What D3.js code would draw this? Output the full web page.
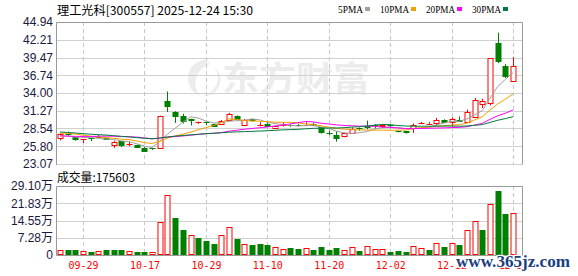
<!DOCTYPE html>
<html><head><meta charset="utf-8">
<script src="https://cdn.jsdelivr.net/npm/d3@7/dist/d3.min.js"></script>
<style>body{margin:0;background:#fff;}svg{display:block;}</style>
</head><body>
<svg id="chart" width="578" height="276"></svg>
<script>
// ---------- data ----------
const dates = ["09-24","09-25","09-26","09-29","09-30","10-09","10-10","10-13","10-14","10-15",
 "10-16","10-17","10-20","10-21","10-22","10-23","10-24","10-27","10-28","10-29",
 "10-30","10-31","11-03","11-04","11-05","11-06","11-07","11-10","11-11","11-12",
 "11-13","11-14","11-17","11-18","11-19","11-20","11-21","11-24","11-25","11-26",
 "11-27","11-28","12-01","12-02","12-03","12-04","12-05","12-08","12-09","12-10",
 "12-11","12-12","12-15","12-16","12-17","12-18","12-19","12-22","12-23","12-24"];
const opens = [27.14,27.65,27.20,26.70,27.05,27.30,27.10,26.06,26.55,26.10,
 26.00,25.60,25.50,25.55,32.70,31.08,30.50,29.99,29.50,29.48,
 29.24,29.24,29.90,30.51,29.13,29.95,29.10,29.30,28.60,29.05,
 29.10,29.10,29.00,29.30,28.72,27.85,27.60,27.30,27.90,28.60,
 28.95,29.00,28.80,29.05,28.20,28.10,28.52,29.30,29.25,29.39,
 29.90,29.50,29.90,29.55,30.40,32.31,32.46,41.67,38.19,35.78];
const highs = [27.80,28.05,27.25,26.90,27.10,27.55,27.15,26.65,26.60,26.50,
 26.05,25.70,25.55,30.50,34.24,31.20,30.80,30.05,29.58,29.60,
 29.30,29.85,30.95,30.55,30.00,30.05,29.50,29.40,28.95,29.40,
 29.20,29.25,29.50,29.45,28.80,28.20,28.10,27.85,28.70,28.70,
 29.75,29.20,29.20,29.10,28.25,28.15,29.29,29.55,29.55,30.16,
 29.95,30.25,30.40,31.44,33.23,33.12,39.38,43.30,38.45,39.52];
const lows = [26.72,27.40,26.65,26.30,26.60,27.05,26.80,25.56,25.68,25.80,
 25.55,24.95,25.25,25.45,31.08,29.40,29.30,29.00,29.25,29.05,
 28.75,29.10,29.80,29.80,29.05,29.60,28.90,28.80,28.50,28.85,
 28.80,28.85,28.90,29.00,27.75,27.50,26.50,27.20,27.85,28.20,
 28.40,28.50,28.60,28.60,27.95,27.75,27.86,29.20,29.25,28.98,
 29.35,28.78,29.60,29.50,30.25,31.70,32.10,38.60,36.30,35.78];
const closes = [27.75,27.55,26.72,26.88,26.82,27.20,26.85,26.48,25.80,26.20,
 25.60,25.03,25.42,30.50,31.70,30.32,29.50,29.68,29.55,29.40,
 28.83,29.75,30.82,29.85,29.88,29.70,29.15,28.85,28.90,29.10,
 28.95,28.90,29.10,29.05,27.80,27.75,27.00,27.80,28.50,28.40,
 28.70,28.80,29.00,28.90,28.00,27.85,29.02,29.40,29.25,29.90,
 29.40,30.00,29.65,31.08,32.97,32.82,39.38,38.76,36.55,38.14];
// volume in 万 (10k shares)
const volumes = [2.1,2.1,2.1,1.6,1.3,1.7,2.1,2.1,2.1,1.7,
 1.4,1.4,1.3,13.9,25.3,15.6,10.5,8.3,7.2,5.9,
 4.6,8.3,11.7,6.7,4.5,4.2,4.6,4.2,3.2,2.4,
 3.0,2.5,2.8,2.1,3.4,2.1,3.0,2.0,3.2,1.7,
 3.7,2.4,2.4,1.3,1.7,1.4,3.7,2.8,2.1,4.9,
 3.4,5.1,4.2,10.4,14.2,10.5,21.5,27.0,17.4,17.5603];
// closes before the visible window (for moving averages)
const priorCloses = [29.6,29.4,29.8,29.5,29.1,28.9,29.2,28.8,29.0,28.7,
 28.2,27.6,27.1,26.8,26.6,26.5,26.7,26.9,26.7,26.9,
 27.5,28.0,28.6,28.5,28.4,27.8,27.4,27.1,26.95];
const priceTicks = [44.94,42.21,39.47,36.74,34.00,31.27,28.54,25.80,23.07];
const volTicks = [29.10,21.83,14.55,7.28,0];
const volTickLabels = ["29.10万","21.83万","14.55万","7.28万","0"];
const dateLabels = ["09-29","10-17","10-29","11-10","11-20","12-02","12-12","12-24"];
const maPeriods = [5,10,20,30];
const maNames = ["5PMA","10PMA","20PMA","30PMA"];
const stockTitle = "理工光科[300557] 2025-12-24 15:30";
const volTitle = "成交量:175603";

// ---------- styles / layout ----------
const maColors = ["#a0a0a0","#f0a000","#ff00ff","#007a3c"];
const RED = "#ff0000", GREEN = "#008000";
const L = 56, R = 522, PT = 22, PB = 164, VT = 186, VB = 255;

const svg = d3.select("#chart");
const n = closes.length;
const x = d3.scaleLinear().domain([0, n - 1]).range([60, 513]);
const y = d3.scaleLinear().domain([23.07, 44.94]).range([PB, PT]);
const yv = d3.scaleLinear().domain([0, 29.10]).range([VB, VT]);
const cx = i => Math.round(x(i)) + 0.5;
const idxOf = d => dates.indexOf(d);

// watermark (东方财富)
const wm = svg.append("g");
wm.append("path")
  .attr("d", "M205,60 C185,62 182,88 200,96 C192,86 194,70 210,64 Z M212,66 C222,72 220,90 204,96 C222,96 226,72 212,66 Z")
  .attr("fill", "#ececec");
wm.append("text").attr("x", 222).attr("y", 91)
  .attr("font-family", "Noto Sans CJK SC").attr("font-weight", "bold")
  .attr("font-size", 34).attr("fill", "#ececec")
  .attr("textLength", 148).attr("lengthAdjust", "spacingAndGlyphs").text("东方财富");

// gridlines price
svg.append("g").selectAll("line").data(priceTicks.slice(1)).join("line")
  .attr("x1", L).attr("x2", R)
  .attr("y1", d => Math.round(y(d)) + 0.5).attr("y2", d => Math.round(y(d)) + 0.5)
  .attr("stroke", "#d0d0d0");
// gridlines volume
svg.append("g").selectAll("line").data(volTicks.slice(1, 4)).join("line")
  .attr("x1", L).attr("x2", R)
  .attr("y1", d => Math.round(yv(d)) + 0.5).attr("y2", d => Math.round(yv(d)) + 0.5)
  .attr("stroke", "#d0d0d0");
// vertical dashed
const vg = svg.append("g");
dateLabels.forEach(d => {
  const xx = cx(idxOf(d));
  vg.append("line").attr("x1", xx).attr("x2", xx).attr("y1", PT).attr("y2", PB)
    .attr("stroke", "#c8c8c8").attr("stroke-dasharray", "4,3");
  vg.append("line").attr("x1", xx).attr("x2", xx).attr("y1", VT).attr("y2", VB)
    .attr("stroke", "#c8c8c8").attr("stroke-dasharray", "4,3");
});

// borders
const bc = "#999";
svg.append("path").attr("d", `M${L+0.5},${PB+1}V${PT+0.5}H${R+0.5}V${PB+0.5}`).attr("fill","none").attr("stroke", bc);
svg.append("path").attr("d", `M${L+0.5},${VB+0.5}V${VT+0.5}H${R+0.5}V${VB+0.5}H${L+0.5}`).attr("fill","none").attr("stroke", bc);

// candles
const cg = svg.append("g");
for (let i = 0; i < n; i++) {
  const up = closes[i] >= opens[i];
  const col = up ? RED : GREEN;
  const xx = cx(i);
  cg.append("line").attr("x1", xx).attr("x2", xx)
    .attr("y1", y(highs[i])).attr("y2", y(lows[i])).attr("stroke", col);
  const top = y(Math.max(opens[i], closes[i])), bot = y(Math.min(opens[i], closes[i]));
  const h = bot - top;
  if (h < 1.2) {
    cg.append("line").attr("x1", xx - 3).attr("x2", xx + 3)
      .attr("y1", Math.round(top) + 0.5).attr("y2", Math.round(top) + 0.5).attr("stroke", col);
  } else if (up) {
    cg.append("rect").attr("x", xx - 2.5).attr("y", Math.round(top) + 0.5)
      .attr("width", 5).attr("height", Math.max(1, Math.round(h)))
      .attr("fill", "#fff").attr("stroke", col);
  } else {
    cg.append("rect").attr("x", xx - 3).attr("y", Math.round(top))
      .attr("width", 6).attr("height", Math.max(1, Math.round(h)))
      .attr("fill", col);
  }
}

// moving averages
const all = priorCloses.concat(closes);
const off = priorCloses.length;
maPeriods.forEach((p, k) => {
  const vals = closes.map((c, i) => d3.mean(all.slice(off + i - p + 1, off + i + 1)));
  svg.append("path").datum(vals)
    .attr("d", d3.line().x((d, i) => x(i)).y(d => y(d)))
    .attr("fill", "none").attr("stroke", maColors[k]).attr("stroke-width", 1);
});

// volume bars
const vbg = svg.append("g");
volumes.forEach((v, i) => {
  const prev = i === 0 ? priorCloses[priorCloses.length - 1] : closes[i - 1];
  const up = closes[i] >= prev;
  const xx = cx(i);
  const top = Math.round(yv(v));
  if (up) {
    vbg.append("rect").attr("x", xx - 2.5).attr("y", top + 0.5)
      .attr("width", 5).attr("height", VB - top - 1)
      .attr("fill", "#fff").attr("stroke", RED);
  } else {
    vbg.append("rect").attr("x", xx - 3).attr("y", top)
      .attr("width", 6).attr("height", VB - top).attr("fill", GREEN);
  }
});

// axes (labels only)
const axFont = "Liberation Sans, Arial, sans-serif";
const ay = svg.append("g").attr("transform", `translate(${L - 2},0)`)
  .call(d3.axisLeft(y).tickValues(priceTicks).tickFormat(d3.format(".2f")).tickSize(0).tickPadding(1));
ay.select(".domain").remove();
ay.selectAll("text").attr("font-family", axFont).attr("font-size", 12).attr("fill", "#1a1a40");

const av = svg.append("g").attr("transform", `translate(${L - 2},0)`)
  .call(d3.axisLeft(yv).tickValues(volTicks).tickFormat((d, i) => volTickLabels[i]).tickSize(0).tickPadding(1));
av.select(".domain").remove();
av.selectAll("text").attr("font-family", axFont + ", Noto Sans CJK SC").attr("font-size", 12).attr("fill", "#1a1a40");

const ax = svg.append("g").attr("transform", `translate(0,${VB})`)
  .call(d3.axisBottom(x).tickValues(dateLabels.map(idxOf)).tickFormat(i => dates[i]).tickSize(0).tickPadding(7));
ax.select(".domain").remove();
ax.selectAll("text").attr("font-family", "DejaVu Sans Mono, monospace").attr("font-size", 10.5)
  .attr("fill", RED).attr("textLength", 30).attr("lengthAdjust", "spacingAndGlyphs");

// titles
svg.append("text").attr("x", 57).attr("y", 15).attr("font-family", "Noto Sans CJK SC")
  .attr("font-size", 12).attr("fill", "#000").attr("textLength", 196)
  .attr("lengthAdjust", "spacingAndGlyphs").text(stockTitle);
svg.append("text").attr("x", 57).attr("y", 182).attr("font-family", "Noto Sans CJK SC")
  .attr("font-size", 12).attr("fill", "#000").attr("textLength", 78)
  .attr("lengthAdjust", "spacingAndGlyphs").text(volTitle);

// legend
const legX = [338, 380, 426, 472], legW = [25, 29, 29, 29];
maNames.forEach((nm, k) => {
  svg.append("text").attr("x", legX[k]).attr("y", 12.5).attr("font-family", "Liberation Serif, serif")
    .attr("font-size", 11).attr("fill", "#000").attr("textLength", legW[k])
    .attr("lengthAdjust", "spacingAndGlyphs").text(nm);
  svg.append("rect").attr("x", legX[k] + legW[k] + 2).attr("y", 7).attr("width", 5).attr("height", 4)
    .attr("fill", maColors[k]);
});

// site watermark
svg.append("text").attr("x", 456).attr("y", 267).attr("font-family", "Liberation Serif, serif")
  .attr("font-weight", "bold").attr("font-size", 17).attr("fill", "#1b3f80")
  .attr("stroke", "#fff").attr("stroke-width", 2.5).attr("paint-order", "stroke")
  .attr("textLength", 114).attr("lengthAdjust", "spacingAndGlyphs").text("www.365jz.com");
</script>
</body></html>
